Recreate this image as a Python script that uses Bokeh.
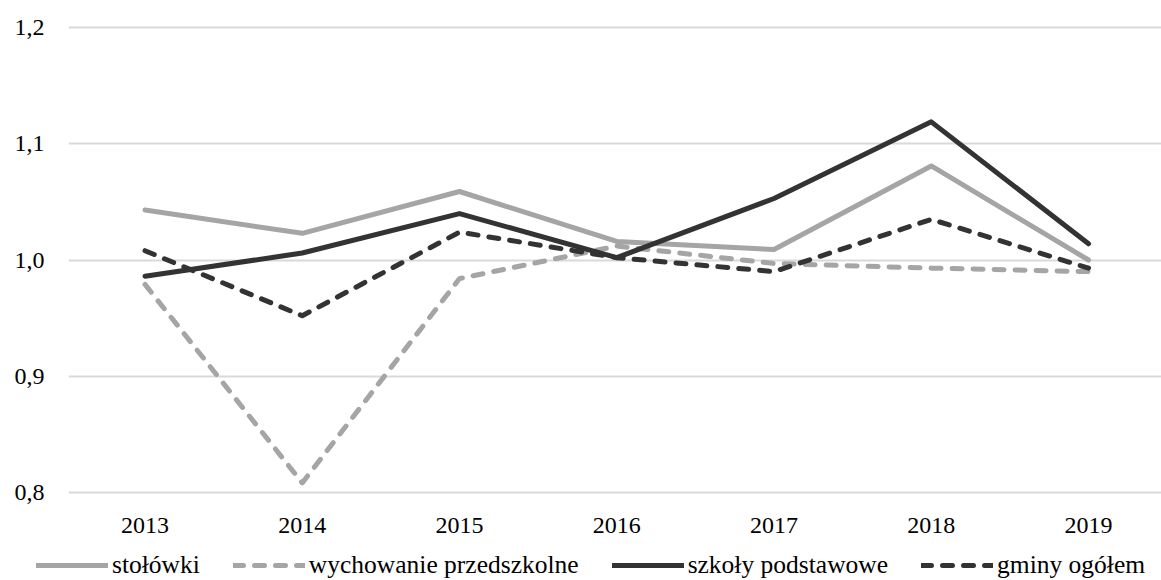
from bokeh.plotting import figure
from bokeh.models import Range1d, FixedTicker, CustomJSTickFormatter, Legend, LegendItem
from bokeh.embed import file_html
from bokeh.resources import INLINE

years = ["2013", "2014", "2015", "2016", "2017", "2018", "2019"]
stolowki = [1.043, 1.023, 1.059, 1.016, 1.009, 1.081, 1.000]
wychowanie = [0.979, 0.808, 0.984, 1.012, 0.997, 0.993, 0.990]
szkoly = [0.986, 1.006, 1.040, 1.002, 1.053, 1.119, 1.014]
gminy = [1.008, 0.952, 1.024, 1.002, 0.990, 1.035, 0.993]

series_names = ["stołówki", "wychowanie przedszkolne", "szkoły podstawowe", "gminy ogółem"]
series_vals = [stolowki, wychowanie, szkoly, gminy]
series_colors = ["#A5A5A5", "#A5A5A5", "#333333", "#333333"]
series_dash = ["solid", "10 11", "solid", "10 11"]

FONT = "Liberation Serif"
xs = list(range(len(years)))

p = figure(width=1161, height=551, output_backend="svg", toolbar_location=None,
           x_range=Range1d(-0.4865, 6.464), y_range=Range1d(0.798, 1.202),
           min_border_left=68, min_border_right=0, min_border_top=25, min_border_bottom=57)
p.outline_line_color = None
p.background_fill_color = "white"
p.border_fill_color = "white"

p.xgrid.grid_line_color = None
p.ygrid.grid_line_color = "#D9D9D9"
p.ygrid.grid_line_width = 2

p.yaxis.ticker = FixedTicker(ticks=[0.8, 0.9, 1.0, 1.1, 1.2])
p.yaxis.formatter = CustomJSTickFormatter(code="return tick.toFixed(1).replace('.', ',');")
p.xaxis.ticker = FixedTicker(ticks=xs)
p.xaxis.major_label_overrides = {i: y for i, y in zip(xs, years)}

for ax in (p.xaxis[0], p.yaxis[0]):
    ax.axis_line_color = None
    ax.major_tick_line_color = None
    ax.minor_tick_line_color = None
    ax.major_tick_out = 0
    ax.major_tick_in = 0
    ax.major_label_text_font = FONT
    ax.major_label_text_font_size = "24px"
    ax.major_label_text_color = "#000000"
p.yaxis.major_label_standoff = 24
p.xaxis.major_label_standoff = 23

for vals, col, dash in zip(series_vals, series_colors, series_dash):
    p.line(xs, vals, line_color=col, line_width=5, line_dash=dash,
           line_cap="round", line_join="round")

# legend strip below the chart (its own root, so no frame alignment)
pl = figure(width=1161, height=29, output_backend="svg", toolbar_location=None,
            x_range=Range1d(-0.4865, 6.464), y_range=Range1d(10, 11),
            x_axis_type=None, y_axis_type=None,
            min_border_left=0, min_border_right=0, min_border_top=0, min_border_bottom=0)
pl.outline_line_color = None
pl.xgrid.grid_line_color = None
pl.ygrid.grid_line_color = None
items = []
for name, vals, col, dash in zip(series_names, series_vals, series_colors, series_dash):
    r = pl.line(xs, vals, line_color=col, line_width=5, line_dash=dash,
                line_cap="round", line_join="round")
    items.append(LegendItem(label=name, renderers=[r]))
legend = Legend(items=items, orientation="horizontal", location=(36, 0),
                glyph_width=72, glyph_height=24, label_height=24, label_standoff=4, spacing=33,
                padding=0, margin=0, border_line_color=None, background_fill_alpha=0,
                label_text_font=FONT, label_text_font_size="25.5px", label_text_color="#000000")
pl.add_layout(legend, "center")

open("out.html", "w").write(file_html([p, pl], INLINE))
